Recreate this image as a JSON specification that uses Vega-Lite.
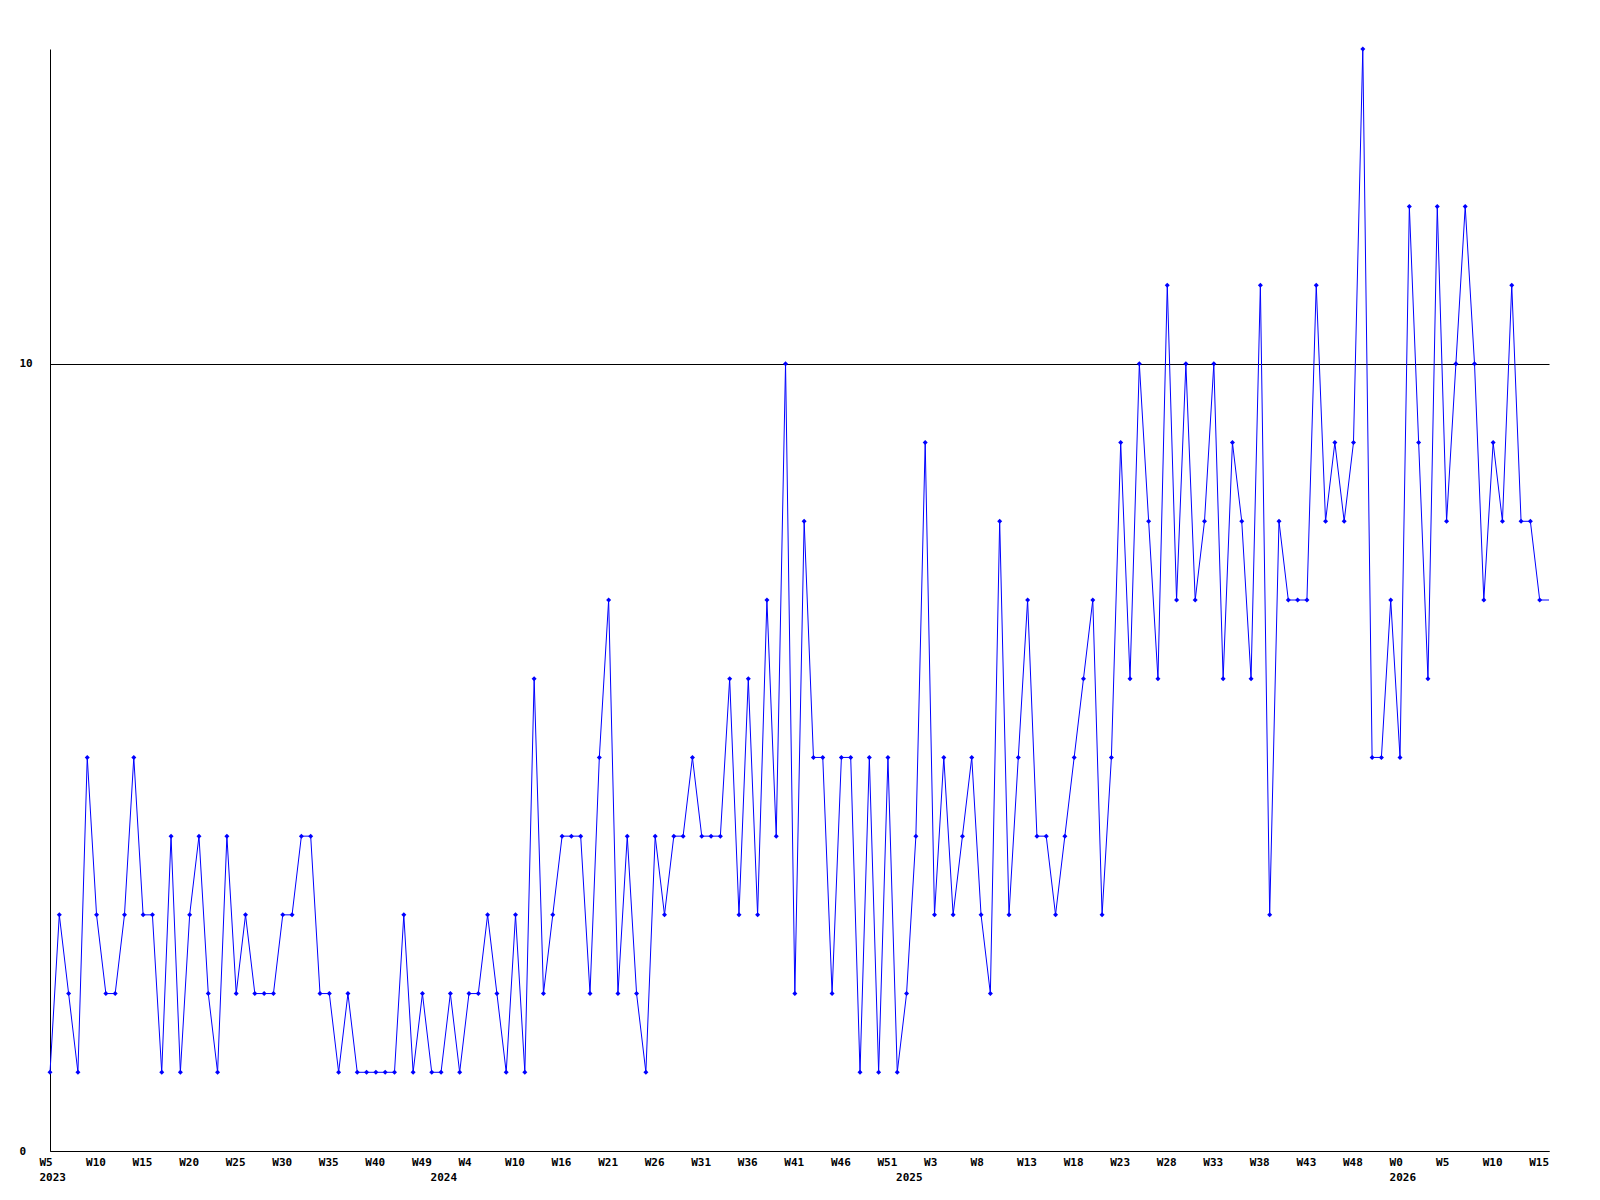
{
  "$schema": "https://vega.github.io/schema/vega-lite/v6.json",
  "autosize": "none",
  "width": 1499,
  "height": 1102,
  "padding": {"left": 50, "top": 49, "right": 51, "bottom": 49},
  "background": "white",
  "config": {
    "view": {"stroke": null},
    "axis": {
      "labelFont": "DejaVu Sans Mono",
      "labelFontWeight": "bold",
      "labelFontSize": 11,
      "labelColor": "black",
      "domainColor": "black",
      "domainWidth": 1,
      "ticks": false,
      "tickSize": 0,
      "title": null
    }
  },
  "data": {
    "values": [
      {"i":0,"v":1},{"i":1,"v":3},{"i":2,"v":2},{"i":3,"v":1},{"i":4,"v":5},{"i":5,"v":3},{"i":6,"v":2},{"i":7,"v":2},{"i":8,"v":3},{"i":9,"v":5},
      {"i":10,"v":3},{"i":11,"v":3},{"i":12,"v":1},{"i":13,"v":4},{"i":14,"v":1},{"i":15,"v":3},{"i":16,"v":4},{"i":17,"v":2},{"i":18,"v":1},{"i":19,"v":4},
      {"i":20,"v":2},{"i":21,"v":3},{"i":22,"v":2},{"i":23,"v":2},{"i":24,"v":2},{"i":25,"v":3},{"i":26,"v":3},{"i":27,"v":4},{"i":28,"v":4},{"i":29,"v":2},
      {"i":30,"v":2},{"i":31,"v":1},{"i":32,"v":2},{"i":33,"v":1},{"i":34,"v":1},{"i":35,"v":1},{"i":36,"v":1},{"i":37,"v":1},{"i":38,"v":3},{"i":39,"v":1},
      {"i":40,"v":2},{"i":41,"v":1},{"i":42,"v":1},{"i":43,"v":2},{"i":44,"v":1},{"i":45,"v":2},{"i":46,"v":2},{"i":47,"v":3},{"i":48,"v":2},{"i":49,"v":1},
      {"i":50,"v":3},{"i":51,"v":1},{"i":52,"v":6},{"i":53,"v":2},{"i":54,"v":3},{"i":55,"v":4},{"i":56,"v":4},{"i":57,"v":4},{"i":58,"v":2},{"i":59,"v":5},
      {"i":60,"v":7},{"i":61,"v":2},{"i":62,"v":4},{"i":63,"v":2},{"i":64,"v":1},{"i":65,"v":4},{"i":66,"v":3},{"i":67,"v":4},{"i":68,"v":4},{"i":69,"v":5},
      {"i":70,"v":4},{"i":71,"v":4},{"i":72,"v":4},{"i":73,"v":6},{"i":74,"v":3},{"i":75,"v":6},{"i":76,"v":3},{"i":77,"v":7},{"i":78,"v":4},{"i":79,"v":10},
      {"i":80,"v":2},{"i":81,"v":8},{"i":82,"v":5},{"i":83,"v":5},{"i":84,"v":2},{"i":85,"v":5},{"i":86,"v":5},{"i":87,"v":1},{"i":88,"v":5},{"i":89,"v":1},
      {"i":90,"v":5},{"i":91,"v":1},{"i":92,"v":2},{"i":93,"v":4},{"i":94,"v":9},{"i":95,"v":3},{"i":96,"v":5},{"i":97,"v":3},{"i":98,"v":4},{"i":99,"v":5},
      {"i":100,"v":3},{"i":101,"v":2},{"i":102,"v":8},{"i":103,"v":3},{"i":104,"v":5},{"i":105,"v":7},{"i":106,"v":4},{"i":107,"v":4},{"i":108,"v":3},{"i":109,"v":4},
      {"i":110,"v":5},{"i":111,"v":6},{"i":112,"v":7},{"i":113,"v":3},{"i":114,"v":5},{"i":115,"v":9},{"i":116,"v":6},{"i":117,"v":10},{"i":118,"v":8},{"i":119,"v":6},
      {"i":120,"v":11},{"i":121,"v":7},{"i":122,"v":10},{"i":123,"v":7},{"i":124,"v":8},{"i":125,"v":10},{"i":126,"v":6},{"i":127,"v":9},{"i":128,"v":8},{"i":129,"v":6},
      {"i":130,"v":11},{"i":131,"v":3},{"i":132,"v":8},{"i":133,"v":7},{"i":134,"v":7},{"i":135,"v":7},{"i":136,"v":11},{"i":137,"v":8},{"i":138,"v":9},{"i":139,"v":8},
      {"i":140,"v":9},{"i":141,"v":14},{"i":142,"v":5},{"i":143,"v":5},{"i":144,"v":7},{"i":145,"v":5},{"i":146,"v":12},{"i":147,"v":9},{"i":148,"v":6},{"i":149,"v":12},
      {"i":150,"v":8},{"i":151,"v":10},{"i":152,"v":12},{"i":153,"v":10},{"i":154,"v":7},{"i":155,"v":9},{"i":156,"v":8},{"i":157,"v":11},{"i":158,"v":8},{"i":159,"v":8},
      {"i":160,"v":7},
      {"i":161,"v":7,"partial":true}
    ]
  },
  "encoding": {
    "x": {
      "field": "i",
      "type": "quantitative",
      "scale": {"domain": [0, 161], "nice": false, "zero": false},
      "axis": {
        "values": [0,5,10,15,20,25,30,35,40,42,45,50,55,60,65,70,75,80,85,90,92,95,100,105,110,115,120,125,130,135,140,145,150,155,160],
        "labelExpr": "datum.value == 42 ? [' ', '2024'] : datum.value == 92 ? [' ', '2025'] : split(['W5|2023','W10','W15','W20','W25','W30','W35','W40','W49','W4','W10','W16','W21','W26','W31','W36','W41','W46','W51','W3','W8','W13','W18','W23','W28','W33','W38','W43','W48','W0|2026','W5','W10','W15'][datum.value / 5], '|')",
        "labelAlign": "left",
        "labelBaseline": "top",
        "labelOffset": -11,
        "labelPadding": 5,
        "labelLineHeight": 15.5,
        "labelFlush": false,
        "labelOverlap": false,
        "labelBound": false,
        "grid": false
      }
    },
    "y": {
      "field": "v",
      "type": "quantitative",
      "scale": {"domain": [0, 14], "nice": false},
      "axis": {
        "values": [0, 10],
        "grid": true,
        "gridColor": "black",
        "gridOpacity": 1,
        "gridWidth": 1,
        "labelAlign": "left",
        "labelBaseline": "middle",
        "labelPadding": 31,
        "labelFlush": false,
        "labelOverlap": false
      }
    }
  },
  "layer": [
    {
      "mark": {"type": "line", "color": "#0000ff", "strokeWidth": 1, "interpolate": "linear"}
    },
    {
      "transform": [{"filter": "datum.partial !== true"}],
      "mark": {"type": "point", "shape": "diamond", "filled": true, "color": "#0000ff", "size": 25, "opacity": 1}
    }
  ]
}
